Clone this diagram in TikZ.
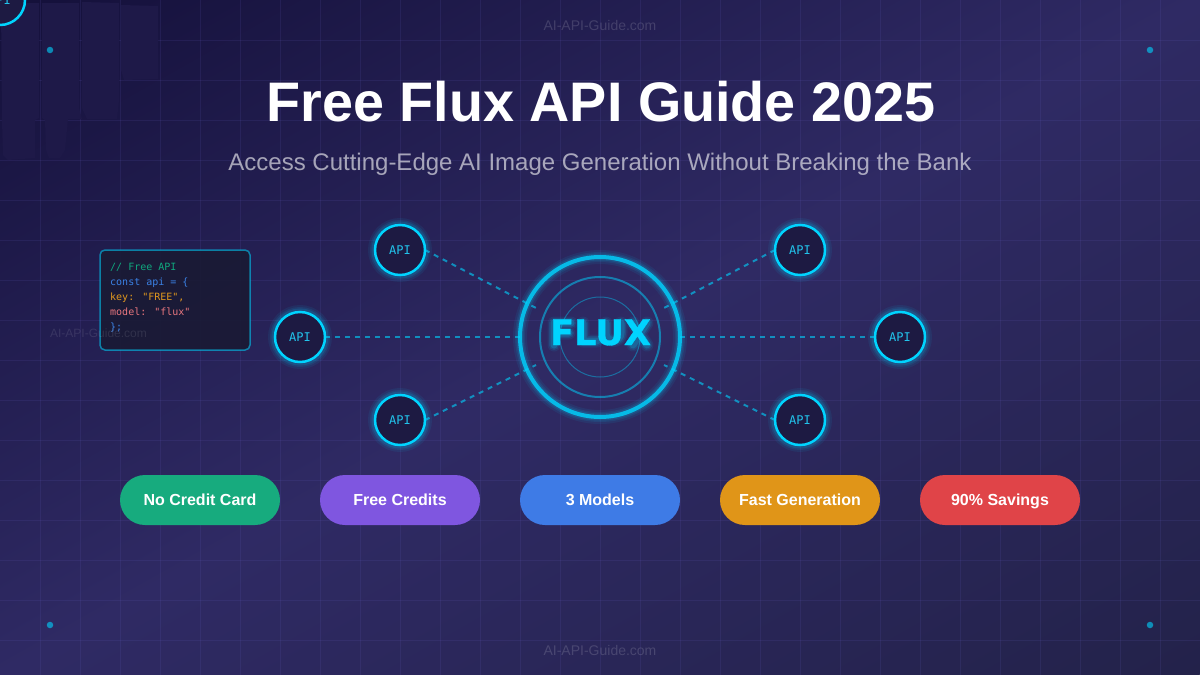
\documentclass[tikz,border=0pt]{standalone}
\usepackage{fontspec}
\setmainfont{Liberation Sans}
\newfontfamily\monof{DejaVu Sans Mono}
\newfontfamily\fluxf{DejaVu Sans Bold}[FakeBold=0.8]
\definecolor{bgA}{HTML}{14103A}
\definecolor{bgB}{HTML}{2F2A64}
\definecolor{bgC}{HTML}{23224A}
\definecolor{cyanx}{HTML}{00D4FF}
\definecolor{apitext}{HTML}{22C4EC}
\definecolor{gridc}{HTML}{6A62C8}
\definecolor{smudge}{HTML}{1E1948}
\definecolor{nodefill}{HTML}{1D1A42}
\definecolor{codefill}{HTML}{1A1A34}
\definecolor{codegreen}{HTML}{10A87E}
\definecolor{codeblue}{HTML}{3B82E6}
\definecolor{codeamber}{HTML}{E0981E}
\definecolor{coderose}{HTML}{E8767E}
\definecolor{pillA}{HTML}{17AB7E}
\definecolor{pillB}{HTML}{7F56E0}
\definecolor{pillC}{HTML}{3E7BE6}
\definecolor{pillD}{HTML}{E09518}
\definecolor{pillE}{HTML}{E04448}
\pgfdeclareverticalshading{bgshade}{100bp}{color(0bp)=(bgA); color(50bp)=(bgB); color(100bp)=(bgC)}
\tikzset{
  apinode/.style={circle,draw=cyanx,line width=2.5pt,fill=nodefill,minimum size=50pt,inner sep=0pt,outer sep=0pt,
    text=apitext,font=\monof\fontsize{12}{14}\selectfont},
  link/.style={draw=cyanx,opacity=.6,line width=2pt,dash pattern=on 5pt off 5pt},
  pill/.style={rounded corners=25pt,minimum width=160pt,minimum height=50pt,inner sep=0pt,outer sep=0pt,
    text=white,text height=11pt,text depth=0pt,font=\bfseries\fontsize{16}{18}\selectfont},
  wm/.style={text=white,text opacity=.15,inner sep=0pt,anchor=base,font=\fontsize{14}{16}\selectfont},
  codeline/.style={inner sep=0pt,anchor=base west,font=\monof\fontsize{10}{12}\selectfont},
  spot/.style={circle,fill=cyanx,fill opacity=.6,minimum size=6.5pt,inner sep=0pt},
  smudgeblock/.style={fill=smudge,draw=none}
}
\newcommand{\halo}[2]{% centre, radius
  \foreach \w/\o in {14/.07,10/.09,7/.13}{
    \draw[cyanx,opacity=\o,line width=\w pt] (#1) circle[radius=#2pt];
  }}
\begin{document}
\begin{tikzpicture}[x=1pt,y=-1pt]
\useasboundingbox (0,0) rectangle (1200,675);
\begin{scope}
  \clip (0,0) rectangle (1200,675);
  \node[inner sep=0pt,outer sep=0pt,rotate=209.4,xscale=30,yscale=11.72] (bg) at (600,337.5) {\pgfuseshading{bgshade}};
  % grid
  \foreach \g in {40,80,...,1160}{\draw[gridc,opacity=.13,line width=1pt] (\g,0) -- (\g,675);}
  \foreach \g in {40,80,...,640}{\draw[gridc,opacity=.13,line width=1pt] (0,\g) -- (1200,\g);}
  % smudges top-left
  \fill[smudgeblock] (1,3) -- (39,3) -- (39,118) -- (35,120) -- (35,158) -- (8,160) -- (3,155) -- (2,120) -- cycle;
  \fill[smudgeblock] (42,3) -- (79,3) -- (79,108) -- (82,119) -- (68,119) -- (65,150) -- (60,158) -- (49,158) -- (46,150) -- (45,120) -- (42,118) -- cycle;
  \fill[smudgeblock] (82,2) -- (119,3) -- (119,100) -- (117,119) -- (87,119) -- (82,108) -- cycle;
  \fill[smudgeblock] (121,5) -- (158,6) -- (158,79) -- (124,80) -- (121,70) -- cycle;
\end{scope}
% corner dots
\node[spot] (d1) at (50,50) {};
\node[spot] (d2) at (1150,50) {};
\node[spot] (d3) at (50,625) {};
\node[spot] (d4) at (1150,625) {};
% flux end coordinates
\coordinate (f1) at (536,308);
\coordinate (f2) at (521,337);
\coordinate (f3) at (536,365);
\coordinate (f4) at (664,308);
\coordinate (f5) at (679,337);
\coordinate (f6) at (664,365);
% api positions
\coordinate (c0) at (0,0);
\coordinate (c1) at (400,250);
\coordinate (c2) at (300,337);
\coordinate (c3) at (400,420);
\coordinate (c4) at (800,250);
\coordinate (c5) at (900,337);
\coordinate (c6) at (800,420);
\coordinate (cc) at (600,337);
\foreach \c in {c1,c2,c3,c4,c5,c6}{\halo{\c}{25}}
\node[apinode] (a0) at (c0) {API};
\node[apinode] (a1) at (c1) {API};
\node[apinode] (a2) at (c2) {API};
\node[apinode] (a3) at (c3) {API};
\node[apinode] (a4) at (c4) {API};
\node[apinode] (a5) at (c5) {API};
\node[apinode] (a6) at (c6) {API};
\draw[link] (a1.east) -- (f1);
\draw[link] (a2.east) -- (f2);
\draw[link] (a3.east) -- (f3);
\draw[link] (a4.west) -- (f4);
\draw[link] (a5.west) -- (f5);
\draw[link] (a6.west) -- (f6);
% flux hub
\halo{cc}{80}
\draw[cyanx,line width=4pt,opacity=.8] (cc) circle[radius=80pt];
\draw[cyanx,line width=2pt,opacity=.5] (cc) circle[radius=60pt];
\draw[cyanx,line width=1pt,opacity=.4] (cc) circle[radius=40pt];
% glow behind FLUX letters
\foreach \w/\o in {13/.08,10/.12,7/.2}{
  \draw[cyanx,opacity=\o,line width=\w pt,line cap=round,line join=round]
    (554,345) -- (554,323) -- (571,323) (554,333) -- (569,333)
    (583,323) -- (583,341) -- (597,341)
    (606,323) -- (606,333) .. controls (606,343) and (621,343) .. (621,333) -- (621,323)
    (633,323) -- (647,345) (647,323) -- (633,345);
}
\node[inner sep=0pt,anchor=base,text=cyanx,font=\fluxf\fontsize{35.2}{38}\selectfont] (flux) at (600.5,345) {FLUX};
% code box
\node[draw=cyanx,draw opacity=.55,fill=codefill,fill opacity=.9,line width=1.5pt,rounded corners=5pt,
  minimum width=150pt,minimum height=100pt,inner sep=0pt] (code) at (175,300) {};
\node[codeline,text=codegreen] (l1) at (110,270) {// Free API};
\node[codeline,text=codeblue] (l2) at (110,285) {const api = \{};
\node[codeline,text=codeamber] (l3) at (110,300) {key: "FREE",};
\node[codeline,text=coderose] (l4) at (110,315) {model: "flux"};
\node[codeline,text=codeblue] (l5) at (110,330) {\};};
% titles
\node[inner sep=0pt,anchor=base,text=white,font=\bfseries\fontsize{55.7}{60}\selectfont] (title) at (601,121) {Free Flux API Guide 2025};
\node[inner sep=0pt,anchor=base,text=white,text opacity=.6,font=\fontsize{24}{28}\selectfont] (sub) at (600,170) {Access Cutting-Edge AI Image Generation Without Breaking the Bank};
% pills
\node[pill,fill=pillA] (p1) at (200,500) {No Credit Card};
\node[pill,fill=pillB] (p2) at (400,500) {Free Credits};
\node[pill,fill=pillC] (p3) at (600,500) {3 Models};
\node[pill,fill=pillD] (p4) at (800,500) {Fast Generation};
\node[pill,fill=pillE] (p5) at (1000,500) {90\% Savings};
% watermarks
\node[wm] (w1) at (600,30) {AI-API-Guide.com};
\node[wm,font=\fontsize{12}{14}\selectfont,text opacity=.1] (w2) at (98.5,337) {AI-API-Guide.com};
\node[wm] (w3) at (600,655) {AI-API-Guide.com};
\end{tikzpicture}
\end{document}
